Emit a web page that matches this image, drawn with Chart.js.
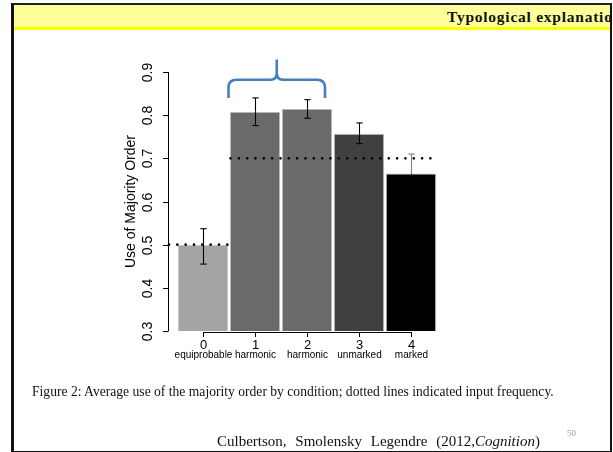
<!DOCTYPE html>
<html>
<head>
<meta charset="utf-8">
<script src="https://cdn.jsdelivr.net/npm/chart.js@4.4.1/dist/chart.umd.min.js"></script>
<style>
  html, body { margin: 0; padding: 0; background: #fff; }
  #page { position: relative; width: 613px; height: 452px; overflow: hidden; background: #fff; }
  #frame { position: absolute; left: 11px; top: 3px; width: 596px; height: 446px;
           border-left: 3px solid #111; border-top: 2px solid #222; border-right: 2px solid #111; border-bottom: 2px solid #111; overflow: hidden; }
  #band { position: absolute; left: 0; top: 0; right: 0; height: 22px; background: #ffff99; border-bottom: 3px solid #ffff00; }
  #head { position: absolute; left: 433px; top: 3px; white-space: nowrap; font-family: "Liberation Serif", serif; font-weight: bold; font-size: 15.5px; letter-spacing: 0.75px; color: #111; }
  canvas { position: absolute; left: 0; top: 0; }
  #caption { position: absolute; left: 32px; top: 384px; white-space: nowrap; font-family: "Liberation Serif", serif; font-size: 13.6px; color: #111; }
  #cite { position: absolute; left: 217px; top: 433px; white-space: nowrap; font-family: "Liberation Serif", serif; font-size: 15px; word-spacing: 5px; color: #111; }
  #pg { position: absolute; left: 567px; top: 428px; font-family: "Liberation Serif", serif; font-size: 9px; color: #999; }
</style>
</head>
<body>
<div id="page">
  <canvas id="c" width="613" height="452"></canvas>
  <div id="frame"><div id="band"></div><div id="head">Typological explanation</div></div>
  <div id="caption">Figure 2: Average use of the majority order by condition; dotted lines indicated input frequency.</div>
  <div id="cite">Culbertson, Smolensky Legendre (2012,<i>Cognition</i>)</div>
  <div id="pg">50</div>
</div>
<script>
const categories = ['0', '1', '2', '3', '4'];
const conditionLabels = ['equiprobable', 'harmonic', 'harmonic', 'unmarked', 'marked'];
const meanUse = [0.500, 0.808, 0.815, 0.757, 0.665];
const errLow = [0.455, 0.776, 0.793, 0.734, 0.620];
const errHigh = [0.537, 0.840, 0.836, 0.782, 0.710];
const inputFreq = [0.5, 0.7, 0.7, 0.7, 0.7];
const yTicks = ['0.3', '0.4', '0.5', '0.6', '0.7', '0.8', '0.9'];
const yAxisTitle = 'Use of Majority Order';
const barColors = ['#a4a4a4', '#6a6a6a', '#6a6a6a', '#404040', '#000000'];
const errColors = ['#000000', '#000000', '#000000', '#000000', '#808080'];

const overlay = {
  id: 'overlay',
  afterDatasetsDraw(chart) {
    const ctx = chart.ctx;
    const xs = chart.scales.x, ys = chart.scales.y;
    const ca = chart.chartArea;
    const px = i => xs.getPixelForValue(i);
    const step = px(1) - px(0);
    const axisX = ca.left - 9.3;
    const yMin = Number(yTicks[0]), yMax = Number(yTicks[yTicks.length - 1]);
    ctx.save();

    // dotted input-frequency lines
    ctx.strokeStyle = '#000';
    ctx.lineWidth = 2.6;
    ctx.lineCap = 'round';
    ctx.setLineDash([0, 8.33]);
    let i = 0;
    while (i < inputFreq.length) {
      let j = i;
      while (j + 1 < inputFreq.length && inputFreq[j + 1] === inputFreq[i]) j++;
      const x0 = i === 0 ? axisX + 1.3 : px(i) - step / 2 + 1.5;
      const x1 = j === inputFreq.length - 1 ? px(j) + step / 2 - 4 : px(j) + step / 2;
      const y = ys.getPixelForValue(inputFreq[i]);
      ctx.beginPath(); ctx.moveTo(x0, y); ctx.lineTo(x1 + 0.5, y); ctx.stroke();
      i = j + 1;
    }
    ctx.setLineDash([]);
    ctx.lineCap = 'butt';

    // error bars
    ctx.lineWidth = 1.1;
    for (let k = 0; k < meanUse.length; k++) {
      const x = Math.round(px(k)) + 0.5;
      const yl = ys.getPixelForValue(errLow[k]);
      const yh = ys.getPixelForValue(errHigh[k]);
      const ym = ys.getPixelForValue(meanUse[k]);
      ctx.strokeStyle = '#000';
      ctx.beginPath(); ctx.moveTo(x, yl); ctx.lineTo(x, ym); ctx.stroke();
      ctx.beginPath(); ctx.moveTo(x - 3.2, yl); ctx.lineTo(x + 3.2, yl); ctx.stroke();
      ctx.strokeStyle = errColors[k];
      ctx.beginPath(); ctx.moveTo(x, ym); ctx.lineTo(x, yh); ctx.stroke();
      ctx.beginPath(); ctx.moveTo(x - 3.2, yh); ctx.lineTo(x + 3.2, yh); ctx.stroke();
    }

    // y axis
    ctx.strokeStyle = '#000';
    ctx.lineWidth = 1;
    const ax = Math.round(axisX) + 0.5;
    ctx.beginPath();
    ctx.moveTo(ax, ys.getPixelForValue(yMin)); ctx.lineTo(ax, ys.getPixelForValue(yMax));
    ctx.stroke();
    ctx.fillStyle = '#000';
    ctx.font = '14px "Liberation Sans", Arial, sans-serif';
    ctx.textAlign = 'center';
    ctx.textBaseline = 'middle';
    yTicks.forEach(t => {
      const y = Math.round(ys.getPixelForValue(Number(t))) + 0.5;
      ctx.beginPath(); ctx.moveTo(ax - 5.5, y); ctx.lineTo(ax, y); ctx.stroke();
      ctx.save();
      ctx.translate(axisX - 19.5, y);
      ctx.rotate(-Math.PI / 2);
      ctx.fillText(t, 0, 0);
      ctx.restore();
    });
    ctx.save();
    ctx.font = '14px "Liberation Sans", Arial, sans-serif';
    ctx.translate(axisX - 37, (ca.top + ca.bottom) / 2);
    ctx.rotate(-Math.PI / 2);
    ctx.fillText(yAxisTitle, 0, 0);
    ctx.restore();

    // x axis
    const xy = Math.round(ys.getPixelForValue(yMin)) + 1.5;
    ctx.beginPath();
    ctx.moveTo(Math.round(px(0)), xy); ctx.lineTo(Math.round(px(categories.length - 1)) + 1, xy);
    ctx.stroke();
    categories.forEach((c, k) => {
      const x = Math.round(px(k)) + 0.5;
      ctx.beginPath(); ctx.moveTo(x, xy); ctx.lineTo(x, xy + 4.5); ctx.stroke();
      ctx.font = '13px "Liberation Sans", Arial, sans-serif';
      ctx.fillText(c, x, xy + 12.5);
      ctx.font = '10px "Liberation Sans", Arial, sans-serif';
      ctx.fillText(conditionLabels[k], x, xy + 22.5);
    });

    // blue brace over categories 1 and 2
    const bl = px(1) - step / 2 - 0.5, br = px(2) + step / 2 - 8;
    const bm = (bl + br) / 2;
    const yEnd = ys.getPixelForValue(0.84), yBar = ys.getPixelForValue(0.882), yPeak = ys.getPixelForValue(0.929);
    ctx.strokeStyle = '#4a7ebb';
    ctx.lineWidth = 2.6;
    ctx.lineJoin = 'round';
    ctx.beginPath();
    ctx.moveTo(bl, yEnd);
    ctx.lineTo(bl, yBar + 8);
    ctx.quadraticCurveTo(bl, yBar, bl + 8, yBar);
    ctx.lineTo(bm - 6, yBar);
    ctx.quadraticCurveTo(bm, yBar, bm, yBar - 7);
    ctx.lineTo(bm, yPeak);
    ctx.moveTo(bm, yBar - 7);
    ctx.quadraticCurveTo(bm, yBar, bm + 6, yBar);
    ctx.lineTo(br - 8, yBar);
    ctx.quadraticCurveTo(br, yBar, br, yBar + 8);
    ctx.lineTo(br, yEnd);
    ctx.stroke();
    ctx.restore();
  }
};

new Chart(document.getElementById('c'), {
  type: 'bar',
  data: {
    labels: categories,
    datasets: [{
      data: meanUse,
      backgroundColor: barColors,
      borderColor: '#c4c4c4',
      borderWidth: 1,
      barPercentage: 0.97,
      categoryPercentage: 1.0
    }]
  },
  options: {
    responsive: false,
    animation: false,
    devicePixelRatio: 1,
    layout: { padding: { left: 177, right: 176, top: 72, bottom: 121 } },
    plugins: { legend: { display: false }, tooltip: { enabled: false }, title: { display: false } },
    scales: {
      x: { display: false, offset: true },
      y: { display: false, min: Number(yTicks[0]), max: Number(yTicks[yTicks.length - 1]) }
    }
  },
  plugins: [overlay]
});
</script>
</body>
</html>
